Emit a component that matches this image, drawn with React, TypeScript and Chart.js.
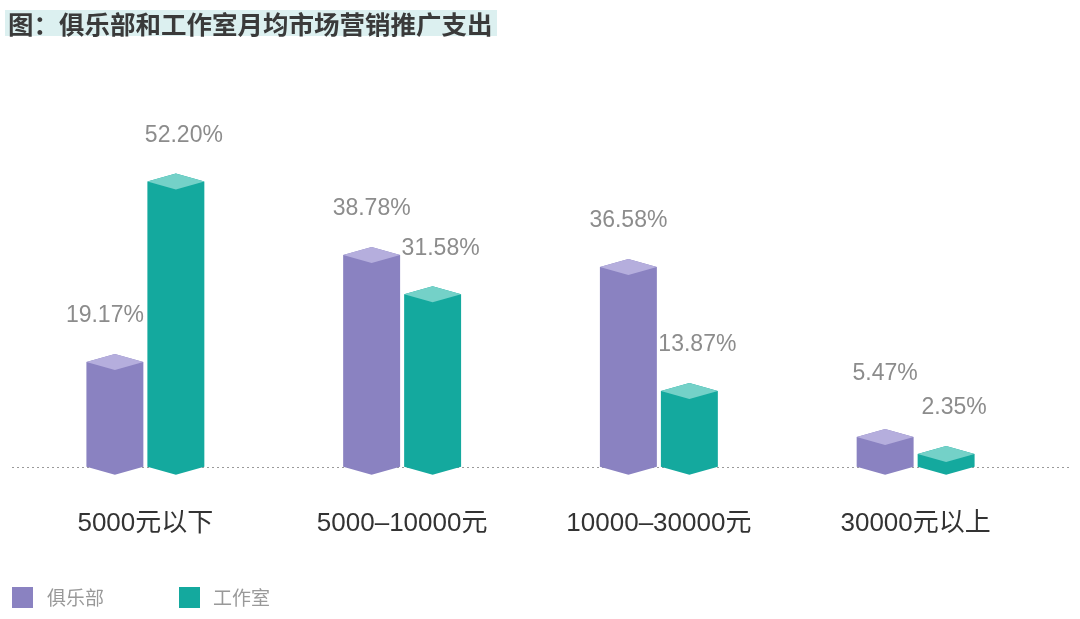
import React, { useEffect, useRef } from "react";
import { Chart, registerables } from "chart.js";

Chart.register(...registerables);

const titleText = "图：俱乐部和工作室月均市场营销推广支出";
const categories = ["5000元以下", "5000–10000元", "10000–30000元", "30000元以上"];
const seriesNames = ["俱乐部", "工作室"];
const clubValues = [19.17, 38.78, 36.58, 5.47];
const studioValues = [52.2, 31.58, 13.87, 2.35];
const yMin = 0;
const yMax = 60;

const FRONT = ["#8a82c1", "#14a99e"];
const TOP = ["#b5aedd", "#74d1c8"];
const LABEL_DX = [0, 8];
const LABEL_GAP = 46;

const bar3d = {
  id: "bar3d",
  beforeDatasetsDraw(chart: any) {
    const ctx = chart.ctx;
    const y0 = Math.round(chart.scales.y.getPixelForValue(0)) + 0.5;
    ctx.save();
    ctx.setLineDash([2, 3]);
    ctx.strokeStyle = "#9a9a9a";
    ctx.lineWidth = 1;
    ctx.beginPath();
    ctx.moveTo(12, y0);
    ctx.lineTo(1070, y0);
    ctx.stroke();
    ctx.restore();
  },
  afterDatasetsDraw(chart: any) {
    const ctx = chart.ctx;
    const metas = chart.data.datasets.map((_: any, di: number) => chart.getDatasetMeta(di));
    chart.data.datasets.forEach((ds: any, di: number) => {
      const meta = metas[di];
      meta.data.forEach((el: any, i: number) => {
        const { x, y, width, base } = el.getProps(["x", "y", "width", "base"], true);
        const x0 = x - width / 2;
        const x1 = x + width / 2;
        const d = 8;
        ctx.save();
        ctx.fillStyle = FRONT[di];
        ctx.beginPath();
        ctx.moveTo(x0, y);
        ctx.lineTo(x, y - d);
        ctx.lineTo(x1, y);
        ctx.lineTo(x1, base);
        ctx.lineTo(x, base + d);
        ctx.lineTo(x0, base);
        ctx.closePath();
        ctx.fill();
        ctx.fillStyle = TOP[di];
        ctx.beginPath();
        ctx.moveTo(x0, y);
        ctx.lineTo(x, y - d);
        ctx.lineTo(x1, y);
        ctx.lineTo(x, y + d);
        ctx.closePath();
        ctx.fill();
        // label with simple collision avoidance against the paired series
        let dx = LABEL_DX[di];
        let ly = y - LABEL_GAP;
        if (di === 0 && metas[1] && metas[1].data[i]) {
          const otherY = metas[1].data[i].getProps(["y"], true).y;
          if (otherY < ly + 14) dx = -10;
          const otherLy = otherY - LABEL_GAP;
          if (Math.abs(ly - otherLy) < 30 && otherLy > ly) ly = otherLy - 34;
        }
        ctx.fillStyle = "#8c8c8c";
        ctx.font = '23px "Liberation Sans", Arial, sans-serif';
        ctx.textAlign = "center";
        ctx.textBaseline = "middle";
        const v = ds.data[i] as number;
        ctx.fillText(v.toFixed(2) + "%", x + dx, ly);
        ctx.restore();
      });
    });
  },
};

export default function App() {
  const ref = useRef<HTMLCanvasElement | null>(null);
  useEffect(() => {
    if (!ref.current) return;
    const chart = new Chart(ref.current, {
      type: "bar",
      data: {
        labels: categories,
        datasets: [
          { label: seriesNames[0], data: clubValues, backgroundColor: "rgba(0,0,0,0)", barPercentage: 0.934, categoryPercentage: 0.475 },
          { label: seriesNames[1], data: studioValues, backgroundColor: "rgba(0,0,0,0)", barPercentage: 0.934, categoryPercentage: 0.475 },
        ],
      },
      options: {
        animation: false,
        responsive: true,
        maintainAspectRatio: false,
        layout: { padding: { left: 17, right: 36, top: 139, bottom: 39 } },
        plugins: { legend: { display: false }, tooltip: { enabled: false }, title: { display: false } },
        scales: {
          x: {
            grid: { display: false, drawTicks: false },
            border: { display: false },
            ticks: {
              color: "#333333",
              padding: 41,
              maxRotation: 0,
              autoSkip: false,
              font: { size: 26, family: '"Liberation Sans", "Noto Sans CJK SC", sans-serif' },
            },
          },
          y: { display: false, min: yMin, max: yMax },
        },
      },
      plugins: [bar3d],
    });
    return () => chart.destroy();
  }, []);

  return (
    <div style={{ position: "fixed", left: 0, top: 0, width: 1080, height: 619, background: "#fff", overflow: "hidden" }}>
      <div style={{ position: "absolute", left: 0, top: 0, width: 1080, height: 619 }}>
        <canvas ref={ref} />
      </div>
      <div
        style={{
          position: "absolute",
          left: 5,
          top: 10,
          width: 492,
          height: 26,
          background: "#dcf0f0",
          color: "#3a3a3a",
          fontFamily: '"Noto Sans CJK SC", sans-serif',
          fontWeight: 700,
          fontSize: 25.5,
          lineHeight: "26px",
          paddingLeft: 3,
          boxSizing: "border-box",
          whiteSpace: "nowrap",
        }}
      >
        {titleText}
      </div>
      {seriesNames.map((name, i) => (
        <div key={name}>
          <div style={{ position: "absolute", left: i === 0 ? 12 : 179, top: 587, width: 21, height: 21, background: FRONT[i] }} />
          <div
            style={{
              position: "absolute",
              left: i === 0 ? 47 : 213,
              top: 584,
              height: 26,
              lineHeight: "26px",
              fontSize: 19,
              color: "#999999",
              fontFamily: '"Noto Sans CJK SC", sans-serif',
              whiteSpace: "nowrap",
            }}
          >
            {name}
          </div>
        </div>
      ))}
    </div>
  );
}
